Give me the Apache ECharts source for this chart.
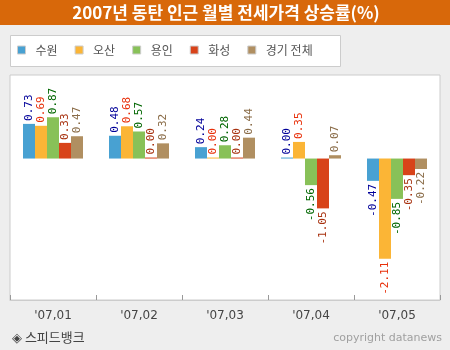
<!DOCTYPE html>
<html>
<head>
<meta charset="utf-8">
<script src="https://cdn.jsdelivr.net/npm/echarts@6/dist/echarts.min.js"></script>
<style>
  body { margin: 0; background: #eeeeee; }
  #chart { width: 450px; height: 350px; }
</style>
</head>
<body>
<div id="chart"></div>
<script>
const categories = ["'07,01", "'07,02", "'07,03", "'07,04", "'07,05"];
const seriesNames = ['수원', '오산', '용인', '화성', '경기 전체'];
const suwon = [0.73, 0.48, 0.24, 0.00, -0.47];
const osan = [0.69, 0.68, 0.00, 0.35, -2.11];
const yongin = [0.87, 0.57, 0.28, -0.56, -0.85];
const hwaseong = [0.33, 0.00, 0.00, -1.05, -0.35];
const gyeonggi = [0.47, 0.32, 0.44, 0.07, -0.22];

const barColors = ['#48a1d2', '#fbb536', '#88c158', '#d84319', '#b08f61'];
const labelColors = ['#000099', '#e8300a', '#006600', '#a83210', '#8a6c48'];

function makeSeries(name, values, i) {
  return {
    name: name,
    type: 'bar',
    barWidth: 12,
    barGap: '0%',
    barMinHeight: 1,
    itemStyle: { color: barColors[i] },
    data: values.map(v => ({
      value: v,
      label: {
        show: true,
        position: v >= 0 ? 'top' : 'bottom',
        rotate: 90,
        align: v >= 0 ? 'left' : 'right',
        verticalAlign: 'middle',
        distance: 3,
        formatter: () => v.toFixed(2),
        color: labelColors[i],
        fontFamily: 'DejaVu Sans Mono',
        fontSize: 11
      }
    }))
  };
}

const chart = echarts.init(document.getElementById('chart'));
chart.setOption({
  backgroundColor: '#eeeeee',
  animation: false,
  graphic: [
    { type: 'rect', shape: { x: 0, y: 0, width: 450, height: 25 }, style: { fill: '#d8680a' } },
    {
      type: 'text', x: 226, y: 13,
      style: {
        text: '2007년 동탄 인근 월별 전세가격 상승률(%)',
        fill: '#fff', font: 'bold 17px "Noto Sans CJK KR"',
        textAlign: 'center', textVerticalAlign: 'middle'
      }
    },
    {
      type: 'rect', shape: { x: 10.5, y: 35.5, width: 330, height: 31 },
      style: { fill: '#fff', stroke: '#cccccc', lineWidth: 1 }, z: -1
    },
    {
      type: 'text', x: 12, y: 337,
      style: {
        text: '◈ 스피드뱅크', fill: '#444',
        font: '13px "Noto Sans CJK KR"', textVerticalAlign: 'middle'
      }
    },
    {
      type: 'text', x: 442, y: 338,
      style: {
        text: 'copyright datanews', fill: '#a0a0a0',
        font: '11px "DejaVu Sans"', textAlign: 'right', textVerticalAlign: 'middle'
      }
    }
  ],
  legend: {
    left: 17, top: 44, padding: 0,
    itemWidth: 8, itemHeight: 8, itemGap: 17,
    icon: 'rect',
    itemStyle: { borderColor: '#cccccc', borderWidth: 1 },
    textStyle: { color: '#555', fontSize: 12, fontFamily: 'Noto Sans CJK KR', padding: [0, 0, 0, 5] },
    data: seriesNames
  },
  grid: {
    left: 10, right: 10, top: 75, bottom: 50,
    show: true, backgroundColor: '#fff', borderColor: '#cccccc', borderWidth: 1
  },
  xAxis: {
    type: 'category',
    data: categories,
    axisLine: { show: true, onZero: false, lineStyle: { color: '#cccccc', width: 1 } },
    axisTick: { show: true, inside: true, length: 5, lineStyle: { color: '#999999', width: 1 } },
    axisLabel: { color: '#444', fontSize: 12, fontFamily: 'DejaVu Sans', margin: 10 }
  },
  yAxis: {
    type: 'value',
    min: -2.98, max: 1.76,
    show: false,
    splitLine: { show: false }
  },
  series: [suwon, osan, yongin, hwaseong, gyeonggi].map((vals, i) => makeSeries(seriesNames[i], vals, i))
});
</script>
</body>
</html>
